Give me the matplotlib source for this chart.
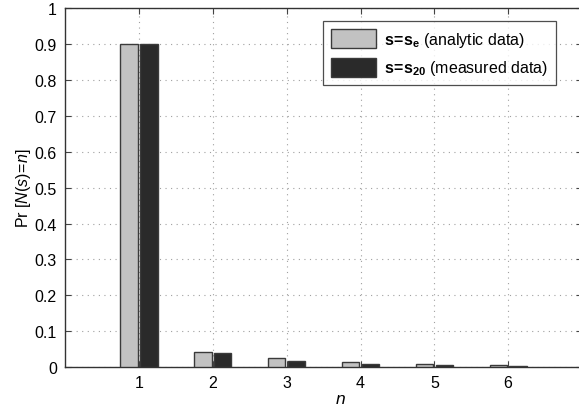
import numpy as np
import matplotlib
matplotlib.use("Agg")
import matplotlib.pyplot as plt

plt.rcParams["font.family"] = "Liberation Sans"
plt.rcParams["mathtext.fontset"] = "custom"
plt.rcParams["mathtext.rm"] = "Liberation Sans"
plt.rcParams["mathtext.it"] = "Liberation Sans:italic"
plt.rcParams["mathtext.bf"] = "Liberation Sans:bold"

n_vals = [1, 2, 3, 4, 5, 6]
analytic = [0.900, 0.042, 0.024, 0.014, 0.008, 0.005]
measured = [0.900, 0.039, 0.016, 0.009, 0.005, 0.004]

W, H = 579, 410
fig = plt.figure(figsize=(W / 100, H / 100), dpi=100)
# axes run past the right edge of the image, as in the reference
ax_l, ax_r, ax_t, ax_b = 65.2, 582, 9.3, 368
ax = fig.add_axes([ax_l / W, 1 - ax_b / H, (ax_r - ax_l) / W, (ax_b - ax_t) / H])

x = np.array(n_vals)
ax.bar(x - 0.135, analytic, width=0.235, color="#c2c2c2", edgecolor="#3a3a3a",
       linewidth=1.0, label=r"$\mathbf{s\!=\!s_e}$ (analytic data)", zorder=3)
ax.bar(x + 0.135, measured, width=0.235, color="#2a2a2a", edgecolor="#3a3a3a",
       linewidth=1.0, label=r"$\mathbf{s\!=\!s_{20}}$ (measured data)", zorder=3)

ax.set_xlim(0, 7)
ax.set_ylim(0, 1)
ax.set_xticks(n_vals)
ax.set_yticks(np.arange(0, 1.01, 0.1))
ax.set_yticklabels(["0"] + [f"{v:.1f}" for v in np.arange(0.1, 0.95, 0.1)] + ["1"])
ax.grid(True, linestyle=(0, (1, 4)), color="#a0a0a0", linewidth=0.8, zorder=0)
ax.tick_params(direction="in", length=4, labelsize=11.5, top=True, right=True,
               color="#444444", pad=6)
for s in ax.spines.values():
    s.set_color("#333333")
    s.set_linewidth(1.0)

ax.set_xlabel(r"$\mathit{n}$", fontsize=12.5)
ax.xaxis.set_label_coords((340 - ax_l) / (ax_r - ax_l), -(392 - ax_b) / (ax_b - ax_t))
ax.set_ylabel(r"Pr $\mathit{[N(s)\!=\!n]}$", fontsize=11.5)
ax.yaxis.set_label_coords(-(ax_l - 33) / (ax_r - ax_l), 0.5)

leg = ax.legend(loc="upper right",
                bbox_to_anchor=((556 - ax_l) / (ax_r - ax_l), (ax_b - 22) / (ax_b - ax_t)),
                fontsize=11.5, frameon=True, fancybox=False, edgecolor="#222222",
                handlelength=2.85, handleheight=1.45, borderpad=0.5, labelspacing=0.55,
                handletextpad=0.5, borderaxespad=0)
leg.get_frame().set_linewidth(0.9)

fig.savefig("out.png", dpi=100)
